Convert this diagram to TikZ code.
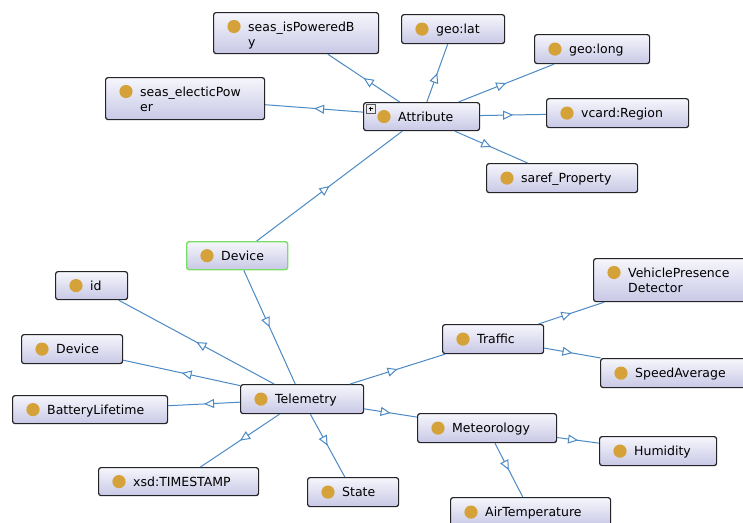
\documentclass[tikz,border=0pt]{standalone}
\usepackage{fontspec}
\setmainfont{DejaVu Sans}
\usetikzlibrary{arrows.meta,decorations.markings}

\definecolor{boxtop}{RGB}{246,246,252}
\definecolor{boxbot}{RGB}{200,200,230}
\definecolor{boxline}{RGB}{35,35,40}
\definecolor{dotcol}{RGB}{212,162,56}
\definecolor{edgecol}{RGB}{76,138,198}
\definecolor{selcol}{RGB}{120,222,100}

\tikzset{
  obox/.style={rectangle, rounded corners=2.5pt, draw=boxline, line width=1.2pt,
    top color=boxtop, bottom color=boxbot, anchor=north west, inner sep=0pt},
  selbox/.style={obox, draw=selcol, line width=1.4pt},
  odot/.style={fill=dotcol},
  olabel/.style={anchor=west, inner sep=0pt, text height=9pt, text depth=0pt,
    font=\fontsize{12.5}{15}\selectfont},
  olabelb/.style={anchor=base west, inner sep=0pt, font=\fontsize{12.5}{15}\selectfont},
  isa/.style={draw=edgecol, line width=1pt, postaction={decorate},
    decoration={markings, mark=at position 0.5 with
      {\arrow[edgecol, line width=1pt]{Triangle[length=10pt, width=9pt, fill=white]}}}}
}

% one-line class box: name, left, top, width, height, label, style
\newcommand\owlbox[7][obox]{%
  \node[#1, minimum width=#5pt, minimum height=#6pt] (#2) at (#3,#4) {};
  \fill[odot] ([xshift=21pt]#2.west) circle (6.6pt);
  \node[olabel] (#2-t) at ([xshift=35pt]#2.west) {#7};
}
% two-line class box: name, left, top, width, height, first line, second line
\newcommand\owlboxii[7]{%
  \node[obox, minimum width=#4pt, minimum height=#5pt] (#1) at (#2,#3) {};
  \fill[odot] ([xshift=21pt, yshift=-14.5pt]#1.north west) circle (6.6pt);
  \node[olabelb] (#1-t) at ([xshift=35pt, yshift=-19pt]#1.north west) {#6};
  \node[olabelb] (#1-u) at ([xshift=35pt, yshift=-34pt]#1.north west) {#7};
}

\begin{document}
\begin{tikzpicture}[x=1pt, y=-1pt]
\useasboundingbox (0,0) rectangle (743,522);
\fill[white] (0,0) rectangle (743,522);
\clip (0,0) rectangle (743,522);

% upper cluster
\owlboxii{isp}{213}{12}{165}{41}{seas\_isPoweredB}{y}
\owlboxii{elp}{105}{77}{159}{42}{seas\_electicPow}{er}
\owlbox{att}{363}{102}{116}{28}{Attribute}
\owlbox{lat}{401}{14}{103}{29}{geo:lat}
\owlbox{long}{534}{34}{115}{29}{geo:long}
\owlbox{reg}{546}{98}{142}{29}{vcard:Region}
\owlbox{saref}{486}{163}{151}{29}{saref\_Property}

% expand marker on Attribute
\draw[draw=gray!70!black, fill=gray!15, line width=0.5pt] (366.5,104.5) rectangle (375,113);
\draw[line width=0.8pt] (368.5,108.75) -- (373,108.75) (370.75,106.5) -- (370.75,111);

% selected class
\owlbox[selbox]{dev}{186}{241}{101}{28}{Device}

% lower cluster
\owlbox{id}{55}{271}{72}{28}{id}
\owlbox{devl}{21}{334}{101}{29}{Device}
\owlbox{bat}{12}{395}{155}{28}{BatteryLifetime}
\owlbox{tel}{240}{384}{123}{29}{Telemetry}
\owlbox{ts}{98}{467}{160}{28}{xsd:TIMESTAMP}
\owlbox{state}{307}{477}{91}{29}{State}
\owlbox{traf}{442}{324}{101}{29}{Traffic}
\owlboxii{vpd}{593}{258}{154}{43}{VehiclePresence}{Detector}
\owlbox{speed}{600}{358}{172}{29}{SpeedAverage}
\owlbox{met}{417}{413}{139}{29}{Meteorology}
\owlbox{hum}{599}{436}{117}{29}{Humidity}
\owlbox{air}{450}{497}{160}{29}{AirTemperature}

% subclass links
\path[isa] (att) -- (isp);
\path[isa] (att) -- (elp);
\path[isa] (att) -- (lat);
\path[isa] (att) -- (long);
\path[isa] (att) -- (reg);
\path[isa] (att) -- (saref);
\path[isa] (dev) -- (att);
\path[isa] (dev) -- (tel);
\path[isa] (tel) -- (id);
\path[isa] (tel) -- (devl);
\path[isa] (tel) -- (bat);
\path[isa] (tel) -- (ts);
\path[isa] (tel) -- (state);
\path[isa] (tel) -- (traf);
\path[isa] (tel) -- (met);
\path[isa] (traf) -- (vpd);
\path[isa] (traf) -- (speed);
\path[isa] (met) -- (hum);
\path[isa] (met) -- (air);
\end{tikzpicture}
\end{document}
